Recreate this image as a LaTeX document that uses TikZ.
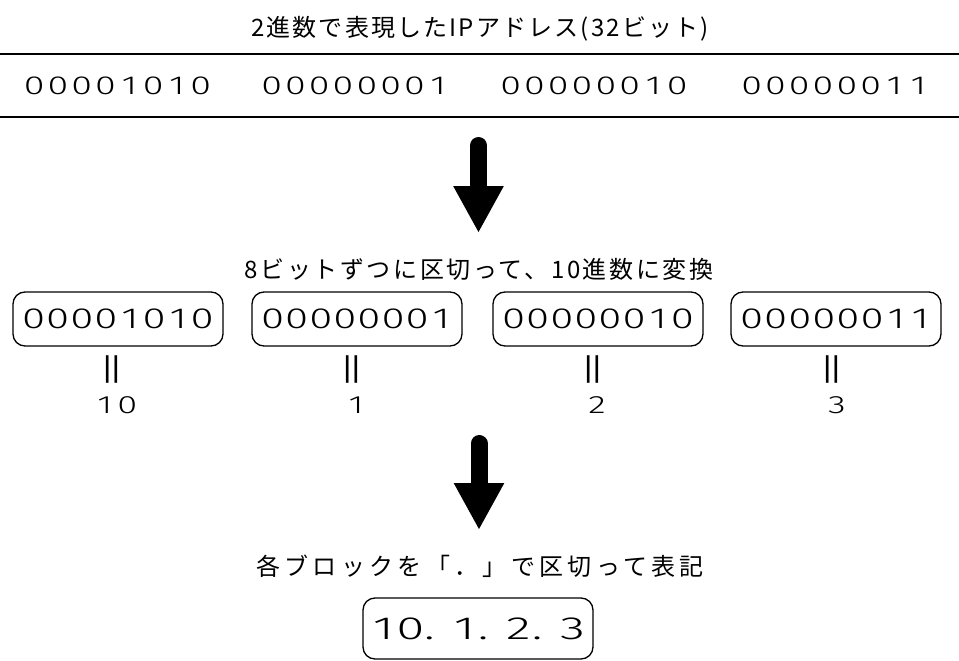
\documentclass[tikz,border=0pt]{standalone}
\usepackage{fontspec}
\setmainfont{Noto Sans CJK JP}
\newfontfamily\jpfont[LetterSpace=9]{Noto Sans CJK JP}
\newfontfamily\jpfontb[LetterSpace=11]{Noto Sans CJK JP}
\newfontfamily\jpfontc[LetterSpace=18]{Noto Sans CJK JP}
\newfontfamily\eqfam{Noto Sans CJK JP}
\def\pickfont#1{\newfontfamily\digfam[FakeStretch=1.45]{#1}\newfontfamily\digfamw[FakeStretch=1.6]{#1}}
\IfFontExistsTF{Fira Sans Book}{\pickfont{Fira Sans Book}}{%
 \IfFontExistsTF{Fira Sans Light}{\pickfont{Fira Sans Light}}{%
    \pickfont{Liberation Sans}}}
\newlength\dgw
\def\spreadx#1{\ifx#1\relax\else\makebox[\dgw][c]{#1}\expandafter\spreadx\fi}
\newcommand\cells[2]{\setlength\dgw{#1}\spreadx#2\relax}
\newcommand\dotcell[1]{\makebox[#1][l]{.}}
\usetikzlibrary{arrows.meta}
\begin{document}
\begin{tikzpicture}[x=1pt,y=-1pt,
  jptitle/.style={inner sep=0pt, font={\jpfont\fontsize{24pt}{28pt}\selectfont}},
  jpsub/.style={inner sep=0pt, font={\jpfontb\fontsize{24pt}{28pt}\selectfont}},
  jpsubc/.style={inner sep=0pt, font={\jpfontc\fontsize{24pt}{28pt}\selectfont}},
  rowbits/.style={inner sep=0pt, font={\digfam\fontsize{26pt}{30pt}\selectfont}},
  bitbox/.style={draw, rounded corners=12pt, line width=1.3pt, minimum width=210pt,
    minimum height=54pt, inner sep=0pt, font={\digfam\fontsize{29pt}{33pt}\selectfont}},
  eqmark/.style={inner sep=0pt, rotate=90, font={\eqfam\fontsize{38pt}{42pt}\selectfont}},
  decnum/.style={inner sep=0pt, font={\digfam\fontsize{25pt}{29pt}\selectfont}},
  finbox/.style={draw, rounded corners=12pt, line width=1.3pt, minimum width=230pt,
    minimum height=61pt, inner sep=0pt, font={\digfamw\fontsize{32pt}{36pt}\selectfont}},
  bigarrow/.style={line width=17pt, line cap=round, -{Triangle[width=47pt,length=47pt]}},
  rule/.style={line width=2pt}
]
\useasboundingbox (0,0) rectangle (959,661);

% title and rules
\node[jptitle] (title) at (480,29) {2進数で表現したIPアドレス(32ビット)};
\coordinate (r1l) at (0,54);  \coordinate (r1r) at (959,54);
\coordinate (r2l) at (0,117); \coordinate (r2r) at (959,117);
\draw[rule] (r1l) -- (r1r);
\draw[rule] (r2l) -- (r2r);

% binary row
\node[rowbits] (w1) at (117.5,86) {\cells{23.8pt}{00001010}};
\node[rowbits] (w2) at (355,86) {\cells{23.8pt}{00000001}};
\node[rowbits] (w3) at (594,86) {\cells{23.8pt}{00000010}};
\node[rowbits] (w4) at (835,86) {\cells{23.8pt}{00000011}};

% arrow 1
\coordinate (a1s) at (478.5,145.5);
\coordinate (a1e) at (478.5,233);
\draw[bigarrow] (a1s) -- (a1e);

\node[jpsub] (sub1) at (479,269) {8ビットずつに区切って、10進数に変換};

% boxes
\node[bitbox] (b1) at (118,319) {\cells{24.1pt}{00001010}};
\node[bitbox] (b2) at (357,319) {\cells{24.1pt}{00000001}};
\node[bitbox] (b3) at (598,319) {\cells{24.1pt}{00000010}};
\node[bitbox] (b4) at (836,319) {\cells{24.1pt}{00000011}};

% equal marks
\node[eqmark] (e1) at (116.5,369) {＝};
\node[eqmark] (e2) at (356,369) {＝};
\node[eqmark] (e3) at (597,369) {＝};
\node[eqmark] (e4) at (836,369) {＝};

% decimals
\node[decnum] (d1) at (116,405) {\cells{22.5pt}{10}};
\node[decnum] (d2) at (356,405) {\cells{22.5pt}{1}};
\node[decnum] (d3) at (597,405) {\cells{22.5pt}{2}};
\node[decnum] (d4) at (837,405) {\cells{22.5pt}{3}};

% arrow 2
\coordinate (a2s) at (479,443.5);
\coordinate (a2e) at (479,530);
\draw[bigarrow] (a2s) -- (a2e);

\node[jpsubc] (sub2) at (480,566) {各ブロックを「．」で区切って表記};

% final
\node[finbox] (fin) at (478,628.5) {\cells{27pt}{10}\dotcell{27pt}\cells{27pt}{1}\dotcell{27pt}\cells{27pt}{2}\dotcell{27pt}\cells{27pt}{3}};
\end{tikzpicture}
\end{document}
